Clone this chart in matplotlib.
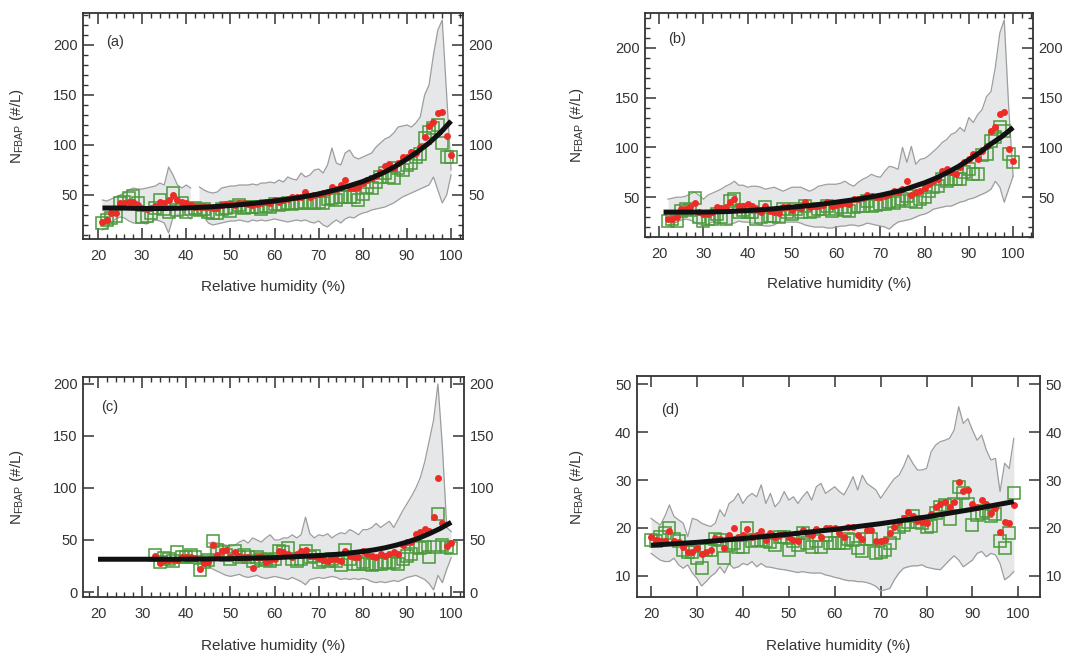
import numpy as np
import matplotlib
matplotlib.use("Agg")
import matplotlib.pyplot as plt
from matplotlib.ticker import MultipleLocator

plt.rcParams['font.family'] = ['Liberation Sans', 'DejaVu Sans']
plt.rcParams['mathtext.fontset'] = 'custom'
plt.rcParams['mathtext.rm'] = 'Liberation Sans'
plt.rcParams['mathtext.it'] = 'Liberation Sans'

nan = np.nan

# ---------------- Panel (a) ----------------
a_rh = list(range(21, 101))
a_red = [23,25,32,32,42,42,43,43,40,37, 36,37,39,43,42,45,50,45,43,42,
         40,38,38,38,38,37,37,40,41,41, 40,42,42,41,40,41,42,43,42,45,
         43,45,46,48,48,48,53,48,50,51, 52,53,58,56,60,65,57,57,58,62,
         65,67,69,73,79,81,77,82,88,88, 93,92,98,108,119,123,132,133,109,90]
a_green = [22,25,27,29,42,43,47,49,42,28, 29,32,37,45,36,33,52,35,42,33,
           36,37,35,36,33,32,32,36,37,34, 38,40,37,38,38,38,36,39,38,41,
           40,41,42,41,42,42,43,42,42,43, 42,46,47,45,48,48,48,48,45,51,
           58,57,63,68,72,68,67,77,75,80, 82,88,91,107,113,117,120,102,88,88]
a_upper = [45,44,46,48,50,52,55,57,56,56, 57,58,59,62,60,78,70,60,57,60,
           57,nan,58,55,53,52,53,57,58,59, 59,60,60,60,61,60,62,62,63,62,
           65,63,68,66,65,72,68,70,75,76, 72,80,97,82,80,92,95,88,86,88,
           90,92,98,102,106,108,112,118,119,120, 118,122,128,150,160,190,215,225,150,75]
a_lower = [15,17,22,26,28,27,24,22,22,22, 21,23,25,24,22,12,28,30,30,30,
           26,nan,32,28,22,20,21,22,23,24, 24,25,24,23,25,24,25,24,25,26,
           25,24,23,24,25,24,25,23,22,24, 20,18,22,25,22,26,28,27,30,32,
           33,35,36,37,38,40,42,45,48,50, 52,54,56,58,60,68,55,42,50,70]
a_fit_rh = [21,25,30,35,40,45,50,55,60,65,70,75,80,82.5,85,87.5,90,92.5,95,97.5,100]
a_fit = [37,37,36.5,36.5,37,38,39.5,41.5,44,47,51,56.5,63.5,68,73,79,86,93.5,102,112,124]

# ---------------- Panel (b) ----------------
b_rh = list(range(22, 101))
b_red = [28,28,30,38,38,40,44,35,33, 33,35,40,39,40,45,48,41,41,43,
         41,38,35,41,36,35,34,40,40,37, 40,39,45,40,41,41,42,45,41,42,
         43,44,43,48,48,49,52,51,50,50, 51,53,56,55,58,66,52,55,56,59,
         63,66,68,76,78,75,73,80,85,88, 93,88,96,101,116,120,134,136,98,86]
b_green = [26,28,26,36,38,37,49,30,26, 28,28,33,30,28,46,48,35,37,35,
           35,28,30,40,31,31,30,38,35,33, 38,35,41,35,36,38,38,41,36,38,
           40,37,36,40,41,41,46,41,42,43, 43,45,44,46,48,51,46,45,48,50,
           56,60,61,68,66,68,68,68,75,78, 73,73,92,93,106,110,120,116,93,85]
b_upper = [48,49,50,50,51,53,55,52,48, 52,54,56,58,61,63,66,62,62,60,
           61,61,60,58,59,60,58,56,58,60, 60,60,58,56,58,61,62,63,63,63,
           64,66,63,61,65,68,70,73,71,70, 76,81,80,78,100,85,101,83,88,89,
           92,96,100,105,108,113,115,120,116,130, 125,133,138,151,156,181,215,228,141,71]
b_lower = [21,23,25,27,28,27,25,23,21, 23,25,25,24,23,23,24,26,25,25,
           24,24,22,21,21,22,25,25,25,25, 25,24,22,21,20,20,20,19,19,20,
           21,21,22,22,21,22,24,23,22,21, 20,18,22,25,26,27,28,30,32,33,
           35,38,39,40,41,41,43,45,46,48, 49,51,53,55,58,66,60,45,58,71]
b_fit_rh = [21,25,30,35,40,45,50,55,60,65,70,75,80,82.5,85,87.5,90,92.5,95,97.5,100]
b_fit = [35,35,35,35.5,36.5,38,40,42,45,48,52,57,64.5,69,74.5,80.5,87.5,95,103.5,111,120]

# ---------------- Panel (c) ----------------
c_rh = list(range(33, 101))
c_red = [35,28,31,31,31,31,34,34,
         34,33,22,28,29,45,36,39,40,34, 38,35,34,34,23,34,34,29,31,32,
         39,38,37,34,37,39,40,35,35,33, 31,30,32,32,30,39,35,34,34,39,
         37,35,34,37,35,37,38,37,45,48, 48,56,58,61,59,72,110,66,44,47]
c_green = [36,29,33,32,30,38,34,34,
           36,34,21,29,31,49,40,38,36,32, 39,34,36,34,30,34,32,31,30,32,
           39,38,42,32,30,32,39,34,35,29, 31,30,32,30,26,40,32,27,27,29,
           27,26,27,27,29,28,29,27,32,35, 37,43,42,43,34,43,75,45,43,42]
c_band_rh = list(range(45, 101))
c_upper = [47,48,47,46,45,44, 45,48,50,47,52,50,48,52,55,50,
           50,52,52,55,52,55,72,56,52,55, 54,56,52,55,57,56,60,58,55,60,
           60,62,66,62,65,68,62,70,78,85, 92,100,110,125,145,165,200,140,62,58]
c_lower = [25,22,20,18,16,15, 16,17,15,14,15,16,14,13,14,15,
           14,13,12,14,12,10,7,12,13,14, 13,14,15,14,12,13,12,13,12,13,
           12,10,9,10,9,10,11,10,12,14, 15,16,14,12,8,2,16,9,22,33]
c_fit_rh = [20,30,40,50,55,60,65,70,75,80,82.5,85,87.5,90,92.5,95,97.5,100]
c_fit = [31.5,31.5,31.5,32,32.5,33,34,35,36.5,39,40.5,42.5,45,48,51.5,56,61,67]

# ---------------- Panel (d) ----------------
d_rh = list(range(20, 100))
d_red = [18.2,17.5,17.2,17.2,19.4,17.2,17.0,16.1,15.0,14.9,
         15.8,14.6,15.0,15.4,18.0,17.8,15.8,18.5,19.9,18.2,
         18.5,19.7,18.2,18.5,19.4,17.5,18.9,18.2,18.5,18.8,
         18.2,17.5,17.2,19.6,18.9,18.5,19.7,18.2,19.9,19.9,
         19.9,18.9,18.2,20.3,20.3,18.5,17.8,19.6,19.6,17.2,
         17.2,17.5,19.0,20.3,21.3,22.0,23.4,22.4,21.5,21.3,
         21.0,22.9,24.4,25.1,25.4,24.4,25.4,29.5,27.8,28.0,
         25.1,24.4,25.8,25.1,23.1,24.1,19.2,21.3,21.0,24.8]
d_green = [17.5,17.2,18.2,18.9,19.9,17.8,17.2,15.4,15.0,15.0,
           13.7,11.6,15.4,15.4,17.8,17.5,13.8,16.5,16.8,16.1,
           16.1,19.9,17.2,17.5,17.5,17.2,17.0,16.5,18.2,18.2,
           15.4,17.2,16.5,18.9,16.8,16.1,17.2,16.1,18.5,16.8,
           16.8,16.8,16.8,17.8,17.5,15.8,15.1,17.8,17.8,14.7,
           14.9,15.4,16.8,18.9,20.3,20.6,21.3,22.4,21.3,21.1,
           20.3,20.4,23.1,24.4,24.8,21.8,25.1,28.6,27.2,25.1,
           20.6,22.7,23.1,23.6,22.4,22.9,17.2,15.8,18.9,27.2]
d_upper = [22.0,21.3,20.6,22.4,24.8,22.4,21.7,21.0,18.2,22.0,
           21.7,21.0,20.6,20.3,21.0,23.8,22.4,25.1,25.8,27.2,
           25.1,26.5,27.2,26.5,29.0,25.1,27.2,24.4,25.5,27.6,
           25.8,26.5,25.1,26.5,27.6,25.8,28.6,29.3,27.2,27.9,
           28.6,27.6,26.9,28.6,30.7,27.9,31.0,29.3,28.6,27.9,
           26.2,27.6,29.0,30.3,31.0,32.8,35.2,33.5,32.1,32.1,
           32.4,35.9,37.3,38.0,38.3,38.7,40.4,45.3,41.8,42.8,
           40.4,38.3,39.4,36.3,34.2,34.5,27.6,33.5,32.4,38.7]
d_lower = [14.7,14.0,13.3,13.0,13.0,13.7,12.3,11.6,12.3,10.6,
           9.5,7.9,8.8,9.9,10.6,11.9,10.6,12.6,11.6,11.9,
           12.6,12.3,13.0,11.9,12.6,11.9,11.8,11.6,11.4,11.3,
           11.1,10.9,10.7,10.9,10.7,10.6,10.6,10.6,10.2,10.0,
           9.7,9.5,9.2,9.0,9.0,8.8,8.8,8.6,8.3,7.8,
           6.9,7.1,7.4,9.2,10.6,11.6,11.9,12.1,12.1,12.3,
           11.8,11.6,11.4,11.3,12.3,13.3,14.2,13.3,11.9,12.6,
           13.3,14.7,15.1,14.0,14.7,14.4,12.6,9.2,9.9,10.9]
d_fit_rh = [20,30,40,50,60,70,80,90,99]
d_fit = [16.4,17.0,17.8,18.7,19.7,20.9,22.3,23.9,25.5]

# ---------------- Styling ----------------
W, H = 1071, 656
fig = plt.figure(figsize=(W/100, H/100), dpi=100)

RED = '#ec2d27'
GREEN = '#4a9a3a'
BAND = '#e6e7e8'
BAND_EDGE = '#9d9d9d'
AX = '#333333'

def rect(l, t, r, b):
    return [l / W, 1 - b / H, (r - l) / W, (b - t) / H]

panels = [
    dict(pos=rect(83, 13, 463, 239), xlim=(16.6, 102.7), ylim=(6, 232),
         rh=a_rh, red=a_red, green=a_green, band_rh=a_rh, up=a_upper, lo=a_lower,
         fx=a_fit_rh, fy=a_fit, ymaj=50, ymin=10, xmin=2, letter='(a)',
         lpos=(0.084, 0.872), ylab=-0.15, xlab=-0.18),
    dict(pos=rect(645, 13, 1033, 237), xlim=(16.8, 104.5), ylim=(10, 235),
         rh=b_rh, red=b_red, green=b_green, band_rh=b_rh, up=b_upper, lo=b_lower,
         fx=b_fit_rh, fy=b_fit, ymaj=50, ymin=10, xmin=2, letter='(b)',
         lpos=(0.082, 0.883), ylab=-0.152, xlab=-0.18),
    dict(pos=rect(83, 377, 464, 597), xlim=(16.6, 102.9), ylim=(-4.8, 206.7),
         rh=c_rh, red=c_red, green=c_green, band_rh=c_band_rh, up=c_upper, lo=c_lower,
         fx=c_fit_rh, fy=c_fit, ymaj=50, ymin=None, xmin=2, letter='(c)',
         lpos=(0.071, 0.865), ylab=-0.15, xlab=-0.19),
    dict(pos=rect(637, 376, 1040, 597), xlim=(16.95, 104.7), ylim=(5.6, 51.7),
         rh=d_rh, red=d_red, green=d_green, band_rh=d_rh, up=d_upper, lo=d_lower,
         fx=d_fit_rh, fy=d_fit, ymaj=10, ymin=None, xmin=None, letter='(d)',
         lpos=(0.082, 0.846), ylab=-0.127, xlab=-0.19),
]

for p in panels:
    ax = fig.add_axes(p['pos'])
    bx = np.array(p['band_rh'], dtype=float)
    up = np.array(p['up'], dtype=float)
    lo = np.array(p['lo'], dtype=float)
    ax.fill_between(bx, lo, up, where=~np.isnan(up), color=BAND, lw=0, zorder=1)
    ax.plot(bx, up, color=BAND_EDGE, lw=0.9, zorder=2)
    ax.plot(bx, lo, color=BAND_EDGE, lw=0.9, zorder=2)
    ax.plot(p['rh'], p['green'], ls='none', marker='s', ms=8.5, mfc='none',
            mec=GREEN, mew=1.1, zorder=3)
    ax.plot(p['rh'], p['red'], ls='none', marker='o', ms=5, mfc=RED,
            mec=RED, mew=0, zorder=4)
    ax.plot(p['fx'], p['fy'], color='#111111', lw=3.6, zorder=5,
            solid_capstyle='butt')

    ax.set_xlim(*p['xlim'])
    ax.set_ylim(*p['ylim'])
    ax.xaxis.set_major_locator(MultipleLocator(10))
    ax.yaxis.set_major_locator(MultipleLocator(p['ymaj']))
    if p['xmin']:
        ax.xaxis.set_minor_locator(MultipleLocator(p['xmin']))
    if p['ymin']:
        ax.yaxis.set_minor_locator(MultipleLocator(p['ymin']))

    for s in ax.spines.values():
        s.set_color(AX)
        s.set_linewidth(1.3)
    ax.tick_params(which='both', direction='in', top=True, right=True,
                   labelright=True, colors=AX, labelcolor=AX, labelsize=10.5)
    ax.tick_params(which='major', length=8, width=1.1)
    ax.tick_params(which='minor', length=3.5, width=1.0)
    ax.tick_params(axis='x', which='major', pad=7)
    ax.tick_params(axis='y', which='major', pad=4)

    ax.set_xlabel('Relative humidity (%)', fontsize=11, color=AX)
    ax.set_ylabel(r'N$_{\mathrm{FBAP}}$ (#/L)', fontsize=11, color=AX)
    ax.xaxis.set_label_coords(0.5, p['xlab'])
    ax.yaxis.set_label_coords(p['ylab'], 0.5)
    ax.text(p['lpos'][0], p['lpos'][1], p['letter'], transform=ax.transAxes,
            ha='center', va='center', fontsize=10.5, color=AX)

fig.savefig('out.png', dpi=100)
